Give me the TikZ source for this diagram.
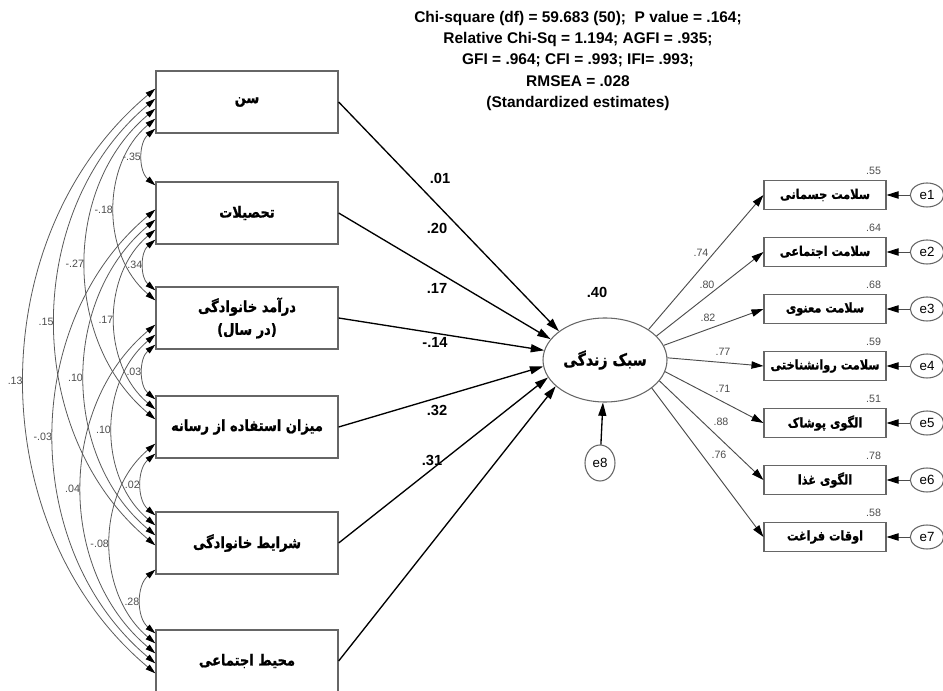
\documentclass[tikz,border=0pt]{standalone}
\usepackage{fontspec}
\setmainfont{Liberation Sans}
\newfontfamily\farsi[Script=Arabic,FakeStretch=0.85,FakeBold=1]{DejaVu Sans Bold}
\TeXXeTstate=1
\usetikzlibrary{arrows.meta,calc,shapes.geometric}
\newcommand{\rl}[1]{\beginR #1\endR}

\begin{document}
\begin{tikzpicture}[x=0.75pt,y=-0.75pt,
  obs/.style={draw=black!60,line width=1pt,minimum width=136.5pt,minimum height=46.5pt,
    inner sep=0pt,align=center,font=\farsi\fontsize{11.5}{17}\selectfont},
  ind/.style={draw=black!60,line width=0.8pt,minimum width=91.5pt,minimum height=21.75pt,
    inner sep=0pt,font=\farsi\fontsize{10}{12}\selectfont},
  err/.style={ellipse,draw=black!60,line width=0.8pt,minimum width=25pt,minimum height=18pt,
    inner sep=0pt,font=\fontsize{10}{12}\selectfont},
  regr/.style={line width=1pt,-{Triangle[length=10pt,width=6pt]}},
  loading/.style={black!70,line width=0.7pt,-{Triangle[length=9pt,width=5.5pt,color=black]}},
  cov/.style={black!65,line width=0.6pt,
    {Triangle[length=7.5pt,width=4.5pt,color=black]}-{Triangle[length=7.5pt,width=4.5pt,color=black]}},
  coef/.style={font=\bfseries\fontsize{11}{13}\selectfont},
  est/.style={text=black!70,inner sep=1pt,font=\fontsize{8}{10}\selectfont}]
\useasboundingbox (0,0) rectangle (943,691);

% fit indices
\node[font=\bfseries\fontsize{11.6}{16.1}\selectfont,align=center] (fit) at (578,61)
  {Chi-square (df) = 59.683 (50);\ \ P value = .164;\\
   Relative Chi-Sq = 1.194; AGFI = .935;\\
   GFI = .964; CFI = .993; IFI= .993;\\
   RMSEA = .028\\
   (Standardized estimates)};

% exogenous variables
\node[obs] (b1) at (247,102) {\rl{سن}};
\node[obs] (b2) at (247,213) {\rl{تحصیلات}};
\node[obs] (b3) at (247,318) {\rl{درآمد خانوادگی}\\\rl{(در سال)}};
\node[obs] (b4) at (247,427) {\rl{میزان استفاده از رسانه}};
\node[obs] (b5) at (247,543) {\rl{شرایط خانوادگی}};
\node[obs] (b6) at (247,661) {\rl{محیط اجتماعی}};

% latent variable
\node[ellipse,draw=black!60,line width=0.8pt,minimum width=93pt,minimum height=63pt,
  inner sep=0pt,font=\farsi\fontsize{12.5}{15}\selectfont] (life) at (605,360) {\rl{سبک زندگی}};
\node[coef] (r2) at (597,292) {.40};
\node[err,minimum width=22.5pt,minimum height=27pt] (e8) at (600,463) {e8};
\draw[regr] (e8) -- (life);

% paths
\foreach \i/\a/\v/\lx/\ly in {1/148/.01/440/178,2/159/.20/437/228,3/171/.17/437/288,
    4/186/-.14/435/342,5/197/.32/437/410,6/208/.31/432/460}{
  \draw[regr] (b\i.east) -- (life.\a);
  \node[coef] (c\i) at (\lx,\ly) {\v};
}

% covariances
\foreach \i/\j/\v in {1/2/-.35,1/3/-.18,1/4/-.27,1/5/.15,1/6/.13,2/3/.34,2/4/.17,2/5/.10,
    2/6/-.03,3/4/.03,3/5/.10,3/6/.04,4/5/.02,4/6/-.08,5/6/.28}{
  \pgfmathtruncatemacro\k{\j-\i-1}
  \coordinate (s\i\j) at ($(b\i.south west)+(0,{-5-10*\k})$);
  \coordinate (t\i\j) at ($(b\j.north west)+(0,{4+10*\k})$);
  \draw[cov] (s\i\j) to[bend right=50] node[est,left] (k\i\j) {\v} (t\i\j);
}

% indicators
\foreach \i/\y/\t/\v/\a/\w/\lx/\ly in {
    1/195/سلامت جسمانی/.55/35/.74/701/253,
    2/252/سلامت اجتماعی/.64/25/.80/707/285,
    3/309/سلامت معنوی/.68/14/.82/708/318,
    4/366/سلامت روانشناختی/.59/2/.77/723/352,
    5/423/الگوی پوشاک/.51/-11/.71/723/389,
    6/480/الگوی غذا/.78/-21/.88/721/422,
    7/537/اوقات فراغت/.58/-31/.76/719/455}{
  \node[ind] (r\i) at (825,\y) {\rl{\t}};
  \node[err] (e\i) at (927,\y) {e\i};
  \draw[loading] (e\i) -- (r\i);
  \draw[loading] (life.\a) -- (r\i.west);
  \node[est] (v\i) at ($(r\i.north east)+(-13,-9)$) {\v};
  \node[est] (w\i) at (\lx,\ly) {\w};
}
\end{tikzpicture}
\end{document}
